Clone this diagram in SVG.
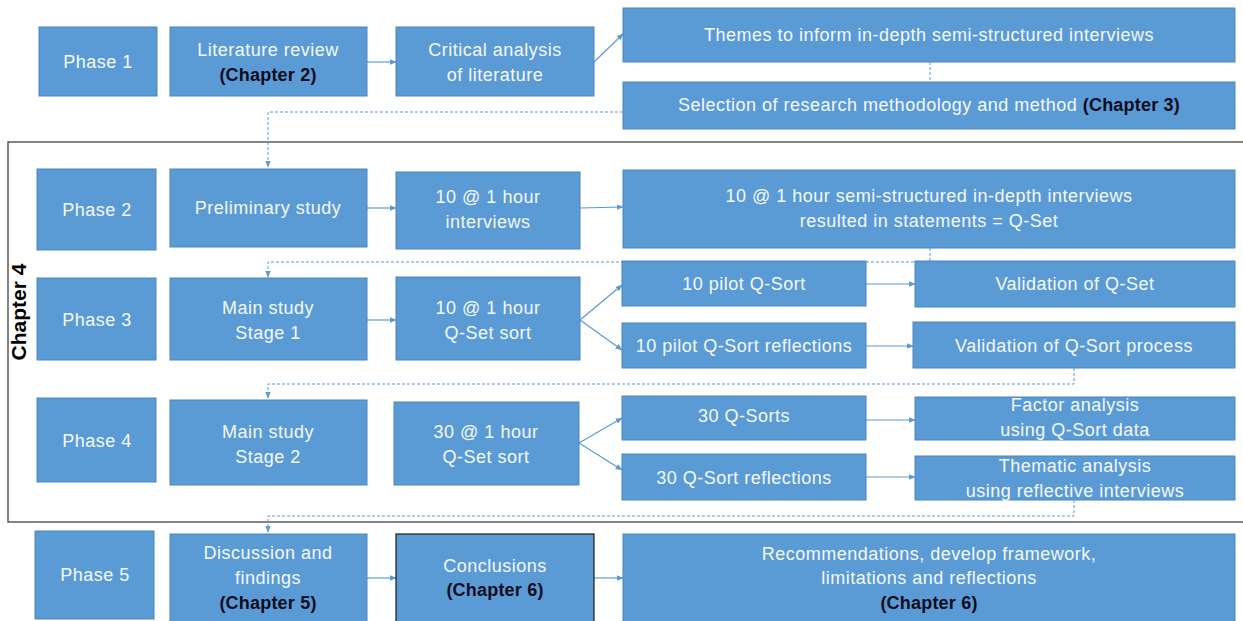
<svg xmlns="http://www.w3.org/2000/svg" width="1243" height="621" viewBox="0 0 1243 621">
  <style>
    .box { fill: #5B9BD5; stroke: #4A86BE; stroke-width: 1; }
    .dark { fill: #5B9BD5; stroke: #1a1a1a; stroke-width: 1.2; }
    .t { font-family: "Liberation Sans", Arial, sans-serif; font-size: 18px; letter-spacing: 0.5px; fill: #f4f8fc; text-anchor: middle; }
    .b { font-weight: bold; fill: #0b0b1e; letter-spacing: 0.2px; }
    .c { fill: none; stroke: #5B9BD5; stroke-width: 1.2; }
    .d { fill: none; stroke: #5B9BD5; stroke-width: 1; stroke-dasharray: 3 2; }
    .frame { fill: none; stroke: #333; stroke-width: 1.2; }
  </style>
  <defs>
    <marker id="ah" viewBox="0 0 10 10" refX="9" refY="5" markerWidth="7" markerHeight="7" markerUnits="userSpaceOnUse" orient="auto">
      <path d="M0,1 L10,5 L0,9 z" fill="#5B9BD5"/>
    </marker>
  </defs>
  <rect width="1243" height="621" fill="#ffffff"/>

  <!-- Chapter 4 frame -->
  <g id="chapter4">
    <rect class="frame" x="8" y="142" width="1250" height="380"/>
    <text transform="translate(26,312) rotate(-90)" font-family="Liberation Sans, Arial, sans-serif" font-size="21" font-weight="bold" fill="#000" text-anchor="middle">Chapter 4</text>
  </g>

  <!-- connectors -->
  <g id="connectors">
    <line class="c" x1="367" y1="62" x2="396" y2="62" marker-end="url(#ah)"/>
    <line class="c" x1="594" y1="62" x2="623" y2="34" marker-end="url(#ah)"/>
    <line class="d" x1="930" y1="62" x2="930" y2="82"/>
    <polyline class="d" points="623,112 268,112 268,167" marker-end="url(#ah)"/>

    <line class="c" x1="367" y1="208" x2="396" y2="208" marker-end="url(#ah)"/>
    <line class="c" x1="580" y1="208" x2="623" y2="207" marker-end="url(#ah)"/>
    <polyline class="d" points="930,248 930,262 268,262 268,277" marker-end="url(#ah)"/>

    <line class="c" x1="367" y1="320" x2="396" y2="320" marker-end="url(#ah)"/>
    <line class="c" x1="580" y1="320" x2="622" y2="285" marker-end="url(#ah)"/>
    <line class="c" x1="580" y1="320" x2="622" y2="350" marker-end="url(#ah)"/>
    <line class="c" x1="866" y1="284" x2="915" y2="284" marker-end="url(#ah)"/>
    <line class="c" x1="866" y1="346" x2="913" y2="346" marker-end="url(#ah)"/>
    <polyline class="d" points="1074,368 1074,384 268,384 268,398" marker-end="url(#ah)"/>

    <line class="c" x1="579" y1="443" x2="622" y2="418" marker-end="url(#ah)"/>
    <line class="c" x1="579" y1="443" x2="622" y2="470" marker-end="url(#ah)"/>
    <line class="c" x1="866" y1="420" x2="915" y2="420" marker-end="url(#ah)"/>
    <line class="c" x1="866" y1="477" x2="915" y2="477" marker-end="url(#ah)"/>
    <polyline class="d" points="1074,500 1074,516 268,516 268,532" marker-end="url(#ah)"/>

    <line class="c" x1="367" y1="578" x2="396" y2="578" marker-end="url(#ah)"/>
    <line class="c" x1="594" y1="578" x2="623" y2="578" marker-end="url(#ah)"/>
  </g>

  <!-- Phase 1 -->
  <g id="phase1"><rect class="box" x="39" y="27" width="118" height="69"/><text class="t" x="98" y="68">Phase 1</text></g>
  <g id="litreview"><rect class="box" x="170" y="27" width="197" height="69"/>
    <text class="t" x="268" y="56">Literature review</text><text class="t b" x="268" y="81">(Chapter 2)</text></g>
  <g id="critical"><rect class="box" x="396" y="27" width="198" height="69"/>
    <text class="t" x="495" y="56">Critical analysis</text><text class="t" x="495" y="81">of literature</text></g>
  <g id="themes"><rect class="box" x="623" y="8" width="612" height="54"/>
    <text class="t" x="929" y="41">Themes to inform in-depth semi-structured  interviews</text></g>
  <g id="selection"><rect class="box" x="623" y="82" width="612" height="47"/>
    <text class="t" x="929" y="111">Selection of research methodology and  method <tspan class="b">(Chapter 3)</tspan></text></g>

  <!-- Phase 2 -->
  <g id="phase2"><rect class="box" x="37" y="169" width="119" height="81"/><text class="t" x="97" y="216">Phase 2</text></g>
  <g id="prelim"><rect class="box" x="170" y="169" width="197" height="78"/><text class="t" x="268" y="214">Preliminary study</text></g>
  <g id="interviews10"><rect class="box" x="396" y="172" width="184" height="77"/>
    <text class="t" x="488" y="203">10 @ 1 hour</text><text class="t" x="488" y="228">interviews</text></g>
  <g id="semistructured"><rect class="box" x="623" y="170" width="612" height="78"/>
    <text class="t" x="929" y="202">10 @ 1 hour semi-structured in-depth interviews</text>
    <text class="t" x="929" y="227">resulted in statements = Q-Set</text></g>

  <!-- Phase 3 -->
  <g id="phase3"><rect class="box" x="37" y="278" width="119" height="82"/><text class="t" x="97" y="326">Phase 3</text></g>
  <g id="stage1"><rect class="box" x="170" y="278" width="197" height="82"/>
    <text class="t" x="268" y="314">Main study</text><text class="t" x="268" y="339">Stage 1</text></g>
  <g id="qset10"><rect class="box" x="396" y="277" width="184" height="83"/>
    <text class="t" x="488" y="314">10 @ 1 hour</text><text class="t" x="488" y="339">Q-Set sort</text></g>
  <g id="pilot"><rect class="box" x="622" y="261" width="244" height="45"/><text class="t" x="744" y="290">10 pilot Q-Sort</text></g>
  <g id="valqset"><rect class="box" x="915" y="261" width="320" height="46"/><text class="t" x="1075" y="290">Validation of Q-Set</text></g>
  <g id="pilotrefl"><rect class="box" x="622" y="323" width="244" height="45"/><text class="t" x="744" y="352">10 pilot Q-Sort reflections</text></g>
  <g id="valproc"><rect class="box" x="913" y="322" width="322" height="46"/><text class="t" x="1074" y="352">Validation of Q-Sort process</text></g>

  <!-- Phase 4 -->
  <g id="phase4"><rect class="box" x="37" y="398" width="119" height="84"/><text class="t" x="97" y="447">Phase 4</text></g>
  <g id="stage2"><rect class="box" x="170" y="400" width="197" height="85"/>
    <text class="t" x="268" y="438">Main study</text><text class="t" x="268" y="463">Stage 2</text></g>
  <g id="qset30"><rect class="box" x="394" y="402" width="185" height="83"/>
    <text class="t" x="486" y="438">30 @ 1 hour</text><text class="t" x="486" y="463">Q-Set sort</text></g>
  <g id="sorts30"><rect class="box" x="622" y="396" width="244" height="44"/><text class="t" x="744" y="422">30 Q-Sorts</text></g>
  <g id="factor"><rect class="box" x="915" y="397" width="320" height="43"/>
    <text class="t" x="1075" y="411">Factor analysis</text><text class="t" x="1075" y="436">using Q-Sort  data</text></g>
  <g id="refl30"><rect class="box" x="622" y="454" width="244" height="46"/><text class="t" x="744" y="484">30  Q-Sort reflections</text></g>
  <g id="thematic"><rect class="box" x="915" y="456" width="320" height="44"/>
    <text class="t" x="1075" y="472">Thematic analysis</text><text class="t" x="1075" y="497">using reflective  interviews</text></g>

  <!-- Phase 5 -->
  <g id="phase5"><rect class="box" x="35" y="531" width="119" height="88"/><text class="t" x="95" y="581">Phase 5</text></g>
  <g id="discussion"><rect class="box" x="170" y="534" width="197" height="88"/>
    <text class="t" x="268" y="559">Discussion and</text><text class="t" x="268" y="584">findings</text><text class="t b" x="268" y="609">(Chapter 5)</text></g>
  <g id="conclusions"><rect class="dark" x="396" y="534" width="198" height="88"/>
    <text class="t" x="495" y="572">Conclusions</text><text class="t b" x="495" y="596">(Chapter 6)</text></g>
  <g id="recommendations"><rect class="box" x="623" y="534" width="612" height="88"/>
    <text class="t" x="929" y="560">Recommendations, develop framework,</text>
    <text class="t" x="929" y="584">limitations and reflections</text>
    <text class="t b" x="929" y="609">(Chapter 6)</text></g>
</svg>
